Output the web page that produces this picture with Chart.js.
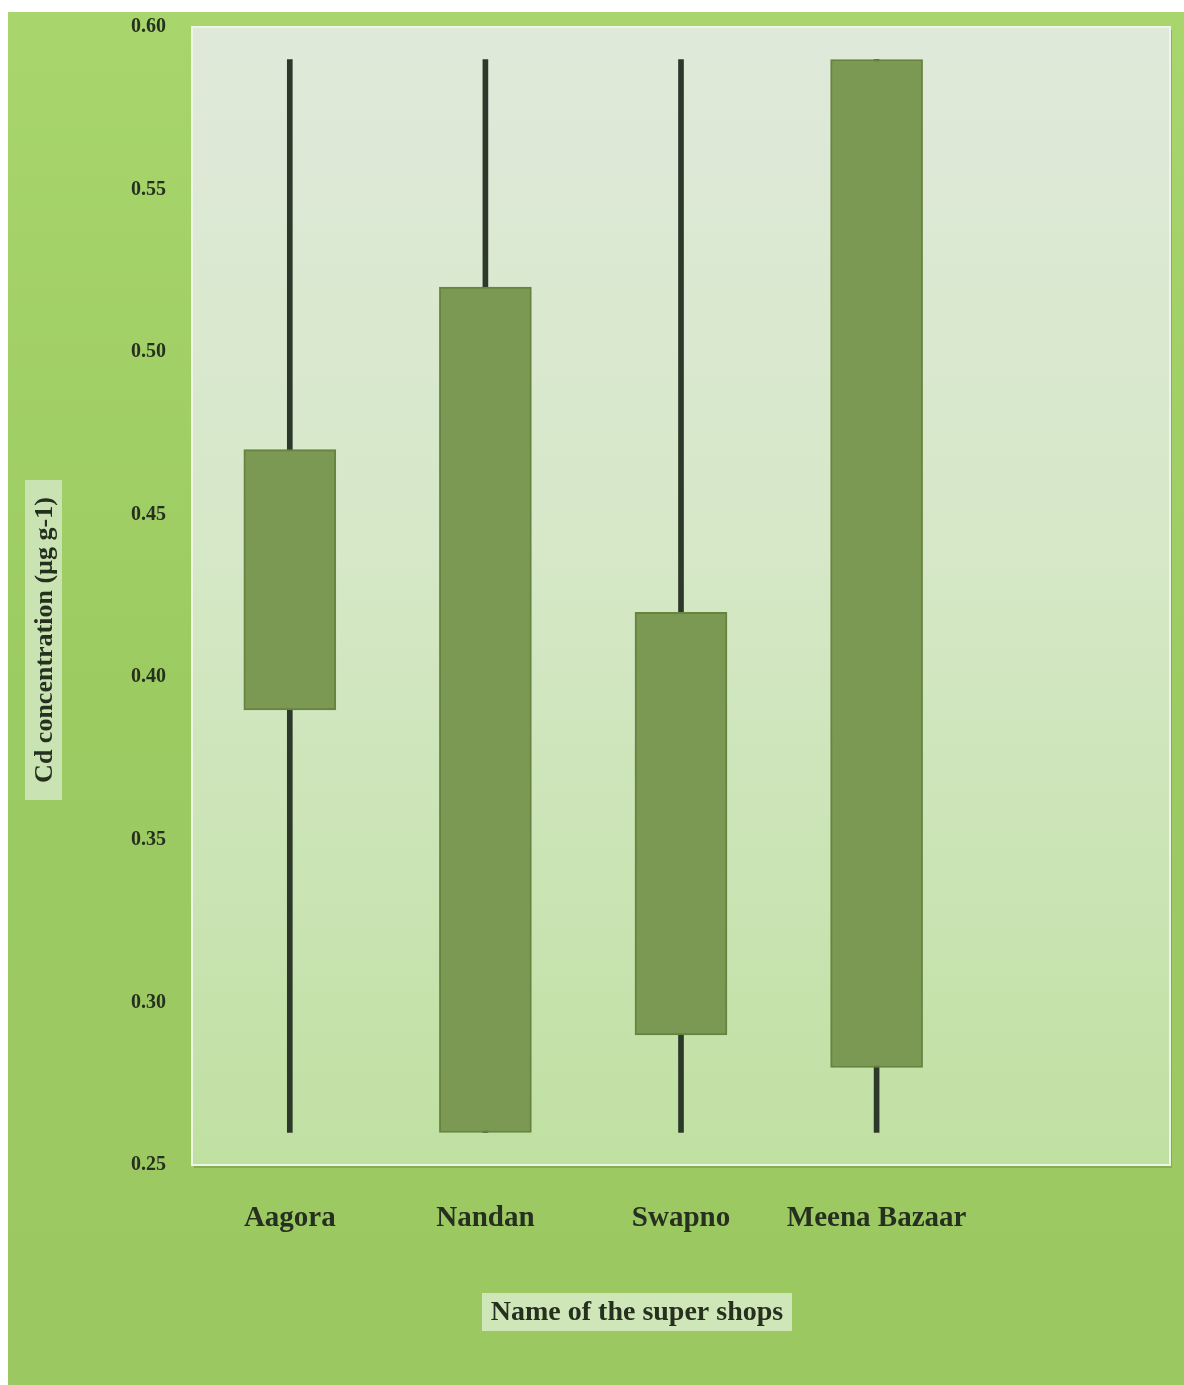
<!DOCTYPE html>
<html>
<head>
<meta charset="utf-8">
<script src="https://cdn.jsdelivr.net/npm/chart.js@4/dist/chart.umd.min.js"></script>
<style>
  html, body { margin: 0; padding: 0; background: #fff; }
  #wrap { width: 1184px; height: 1385px; }
</style>
</head>
<body>
<div id="wrap"><canvas id="cd"></canvas></div>
<script>
// super shops (5th slot is empty in the original chart)
const shops = ['Aagora', 'Nandan', 'Swapno', 'Meena Bazaar', ''];
const lowVals = [0.26, 0.26, 0.26, 0.26, null];
const highVals = [0.59, 0.59, 0.59, 0.59, null];
const boxBottom = [0.39, 0.26, 0.29, 0.28, null];
const boxTop = [0.47, 0.52, 0.42, 0.59, null];

const whiskers = shops.map((s, i) => lowVals[i] == null ? null : [lowVals[i], highVals[i]]);
const boxes = shops.map((s, i) => boxBottom[i] == null ? null : [boxBottom[i], boxTop[i]]);

const serif = '"Liberation Serif", "DejaVu Serif", serif';

// page + plot backgrounds and the boxed axis titles
const decor = {
	id: 'decor',
	beforeDraw(chart) {
		const { ctx, chartArea: a } = chart;
		ctx.save();
		let g = ctx.createLinearGradient(0, 12, 0, 1385);
		g.addColorStop(0, '#a8d66c');
		g.addColorStop(0.5, '#9ccb62');
		g.addColorStop(1, '#9cc862');
		ctx.fillStyle = g;
		ctx.fillRect(8, 12, 1176, 1373);
		// plot area
		ctx.fillStyle = 'rgba(90,120,50,0.35)';
		ctx.fillRect(a.left + 2, a.top + 3, a.right - a.left, a.bottom - a.top);
		g = ctx.createLinearGradient(0, a.top, 0, a.bottom);
		g.addColorStop(0, '#dfe9da');
		g.addColorStop(0.45, '#d6e8c8');
		g.addColorStop(1, '#c0e0a2');
		ctx.fillStyle = g;
		ctx.fillRect(a.left, a.top, a.right - a.left, a.bottom - a.top);
		ctx.strokeStyle = '#eef4e8';
		ctx.lineWidth = 2;
		ctx.strokeRect(a.left, a.top, a.right - a.left, a.bottom - a.top);

		// y title box
		ctx.fillStyle = '#c9e3b2';
		ctx.fillRect(25, 480, 37, 320);
		ctx.translate(44, 640);
		ctx.rotate(-Math.PI / 2);
		ctx.fillStyle = '#26301f';
		ctx.font = 'bold 26px ' + serif;
		ctx.textAlign = 'center';
		ctx.textBaseline = 'middle';
		ctx.fillText('Cd concentration (\u00b5g g-1)', 0, 1);
		ctx.restore();

		// x title box
		ctx.save();
		ctx.fillStyle = '#cfe7b8';
		ctx.fillRect(482, 1293, 310, 38);
		ctx.fillStyle = '#26301f';
		ctx.font = 'bold 28px ' + serif;
		ctx.textAlign = 'center';
		ctx.textBaseline = 'middle';
		ctx.fillText('Name of the super shops', 637, 1313);
		ctx.restore();
	}
};

new Chart(document.getElementById('cd').getContext('2d'), {
	type: 'bar',
	data: {
		labels: shops,
		datasets: [
			{
				label: 'High-Low',
				data: whiskers,
				backgroundColor: '#2c3829',
				borderWidth: 0,
				barThickness: 5,
				grouped: false,
				order: 2,
			},
			{
				label: 'Box',
				data: boxes,
				backgroundColor: '#7b9953',
				borderColor: '#66843f',
				borderWidth: 2,
				borderSkipped: false,
				barThickness: 92,
				grouped: false,
				order: 1,
			},
		],
	},
	options: {
		responsive: true,
		maintainAspectRatio: false,
		animation: false,
		layout: { padding: { top: 27, right: 14, left: 0, bottom: 0 } },
		plugins: {
			legend: { display: false },
			tooltip: { enabled: false },
		},
		scales: {
			x: {
				grid: { display: false },
				border: { display: false },
				ticks: {
					color: '#26301f',
					font: { family: serif, size: 29, weight: 'bold' },
					padding: 28,
					maxRotation: 0,
					autoSkip: false,
				},
				afterFit: s => { s.height = 220; s.paddingLeft = 0; s.paddingRight = 0; },
			},
			y: {
				min: 0.25,
				max: 0.60,
				grid: { display: false },
				border: { display: false },
				ticks: {
					stepSize: 0.05,
					color: '#26301f',
					font: { family: serif, size: 20, weight: 'bold' },
					padding: 18,
					callback: v => v.toFixed(2),
				},
				afterFit: s => { s.width = 192; s.paddingTop = 0; s.paddingBottom = 0; },
			},
		},
	},
	plugins: [decor],
});
</script>
</body>
</html>
